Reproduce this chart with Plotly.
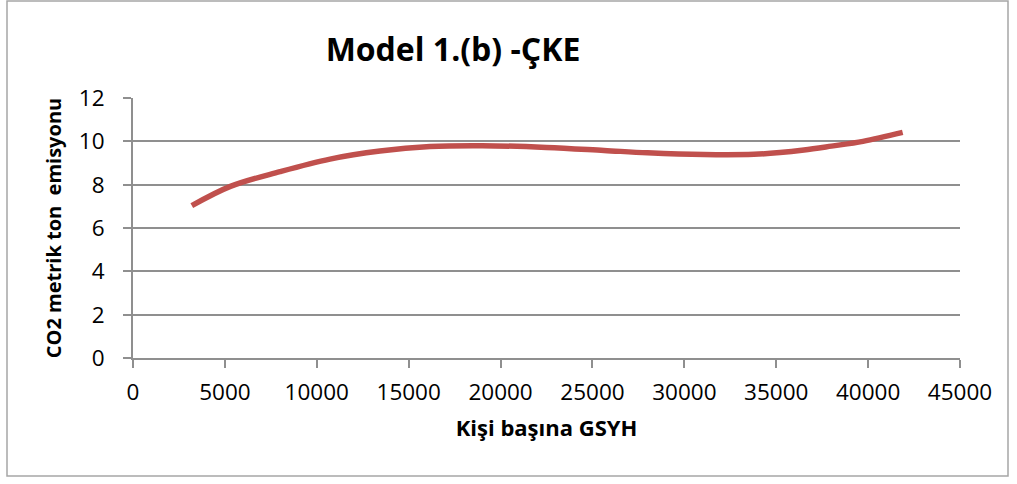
import plotly.graph_objects as go

# Data
gdp_per_capita = [3200, 5300, 8000, 10720, 13440, 16160, 19000, 22500, 25630, 28000,
                  31070, 33790, 35200, 36510, 38000, 39720, 41880]
co2_emission = [7.03, 7.92, 8.6, 9.18, 9.55, 9.76, 9.8, 9.72, 9.58, 9.47,
                9.39, 9.40, 9.48, 9.60, 9.78, 10.0, 10.41]
x_ticks = [0, 5000, 10000, 15000, 20000, 25000, 30000, 35000, 40000, 45000]
y_ticks = [0, 2, 4, 6, 8, 10, 12]

title_text = "Model 1.(b) -ÇKE"
x_title = "Kişi başına GSYH"
y_title = "CO2 metrik ton  emisyonu"

W, H = 1017, 484
L, R, T, B = 133, 57, 98, 126
pw, ph = W - L - R, H - T - B

FONT = "'Open Sans', 'Noto Sans', sans-serif"
GRID = "#8f8f8f"

fig = go.Figure(go.Scatter(
    x=gdp_per_capita, y=co2_emission, mode="lines",
    line=dict(color="#C0504D", width=5.5, shape="spline", smoothing=1.0),
    showlegend=False, hoverinfo="x+y"))

def px_to_paper_x(p):
    return (p - L) / pw

def px_to_paper_y(p):
    return (H - B - p) / ph

fig.add_shape(type="rect", xref="paper", yref="paper",
              x0=px_to_paper_x(7), x1=px_to_paper_x(1008),
              y0=px_to_paper_y(476), y1=px_to_paper_y(1),
              line=dict(color="#a6a6a6", width=1.5), fillcolor="rgba(0,0,0,0)", layer="below")

fig.update_layout(
    width=W, height=H,
    margin=dict(l=L, r=R, t=T, b=B, autoexpand=False),
    paper_bgcolor="white", plot_bgcolor="white",
    font=dict(family=FONT, color="black", size=20),
    title=dict(text="<b>" + title_text + "</b>", x=453 / W, xanchor="center",
               y=1 - 50 / H, yanchor="middle", yref="container", xref="container",
               font=dict(family=FONT, size=32, color="black")),
    xaxis=dict(range=[0, 45000], tickvals=x_ticks, ticktext=[str(v) for v in x_ticks],
               showgrid=False, showline=True, linecolor=GRID, linewidth=2,
               ticks="outside", ticklen=8, tickwidth=1.5, tickcolor=GRID,
               tickfont=dict(family=FONT, size=22.5, color="black"),
               ticklabelstandoff=5, zeroline=False,
               title=dict(text="<b>" + x_title + "</b>", standoff=15,
                          font=dict(family=FONT, size=22, color="black"))),
    yaxis=dict(range=[0, 12], tickvals=y_ticks, ticktext=[str(v) for v in y_ticks],
               showgrid=True, gridcolor=GRID, gridwidth=1.5,
               showline=True, linecolor=GRID, linewidth=2,
               ticks="outside", ticklen=8, tickwidth=1.5, tickcolor=GRID,
               tickfont=dict(family=FONT, size=22.5, color="black"),
               ticklabelstandoff=14, zeroline=False,
               title=dict(text="<b>" + y_title + "</b>", standoff=12,
                          font=dict(family=FONT, size=20, color="black"))),
)

fig.write_html("out.html", config={"displayModeBar": False},
               post_script="document.body.style.margin='0px';")
